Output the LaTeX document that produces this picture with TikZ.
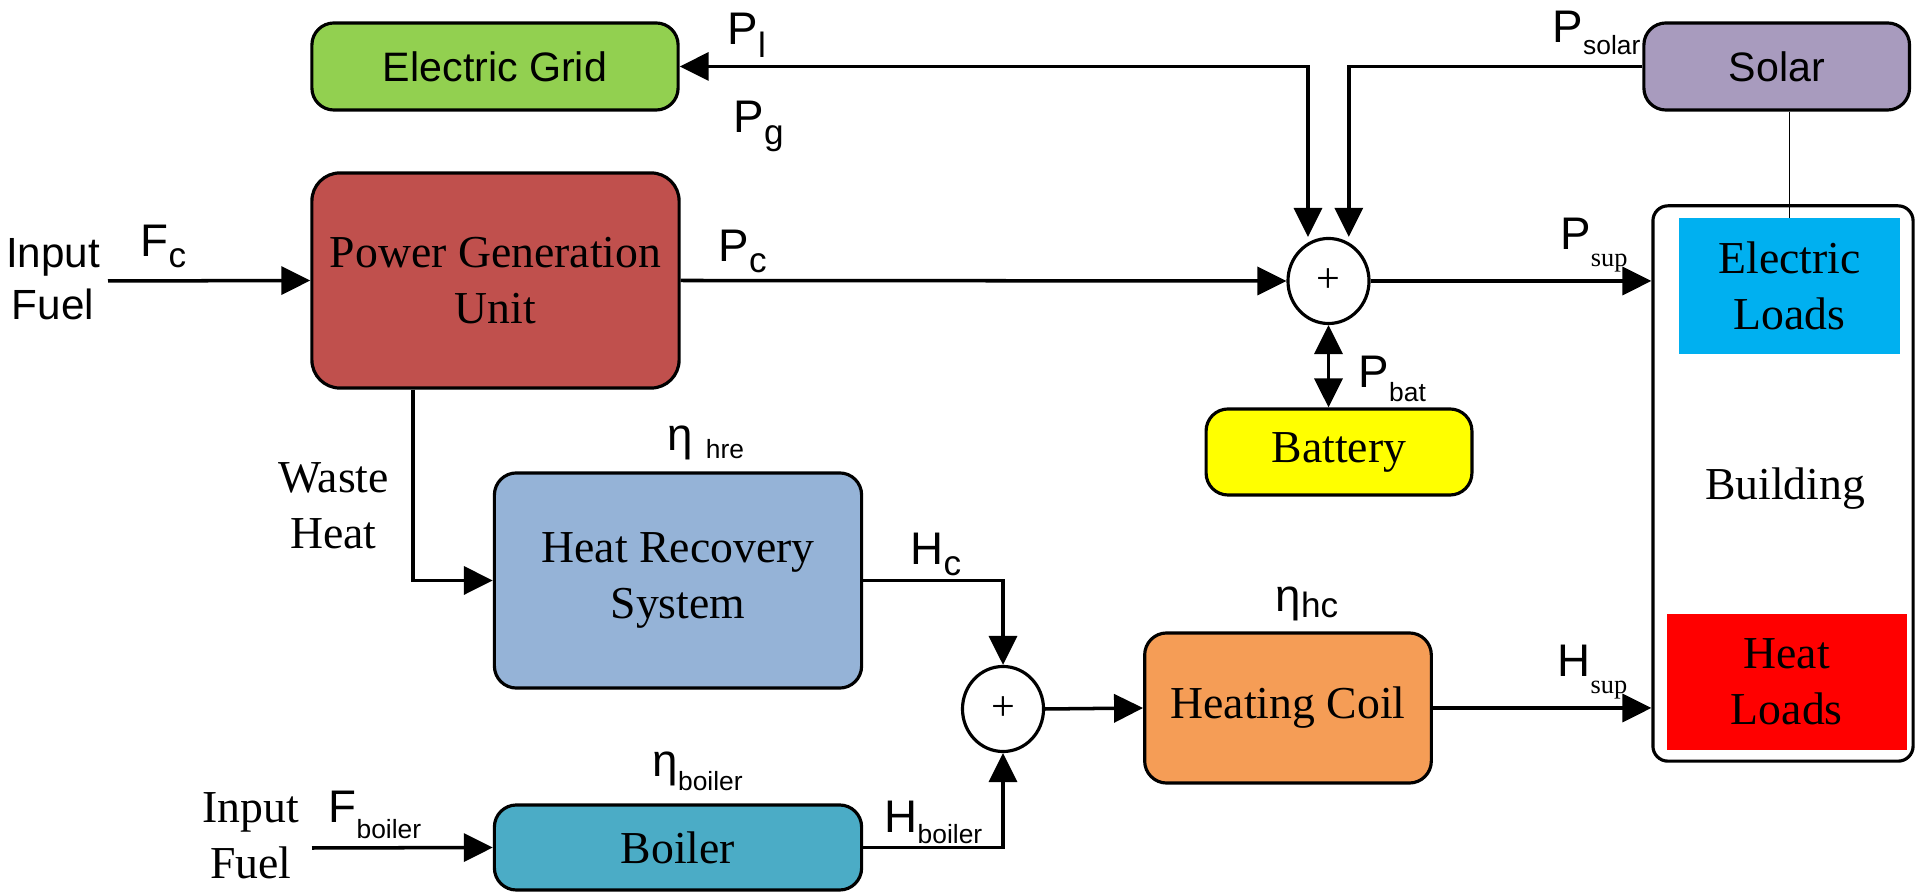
\documentclass[tikz,border=0pt]{standalone}
\usepackage{fontspec}
\setmainfont{Liberation Serif}
\setsansfont{Liberation Sans}
\usetikzlibrary{arrows.meta,shapes.geometric}
\definecolor{cgrid}{HTML}{92D050}
\definecolor{csolar}{HTML}{A89BBE}
\definecolor{cpgu}{HTML}{C0504D}
\definecolor{chrs}{HTML}{95B3D7}
\definecolor{cboiler}{HTML}{4BACC6}
\definecolor{chc}{HTML}{F59D56}
\definecolor{cbat}{HTML}{FFFF00}
\definecolor{celec}{HTML}{00B0F0}
\definecolor{cheat}{HTML}{FF0000}
\newcommand\sbx[3]{\raisebox{-#1pt}{\fontsize{#2}{#2}\selectfont #3}}
\tikzset{
  blk/.style={draw, line width=0.9pt, rounded corners=0.22cm, inner sep=0pt, align=center,
              font=\fontsize{13}{16}\selectfont\rmfamily},
  sblk/.style={blk, font=\fontsize{11.7}{14}\selectfont\sffamily},
  load/.style={inner sep=0pt, align=center, font=\fontsize{13}{16}\selectfont\rmfamily},
  tip/.tip={Triangle[length=0.29cm,width=0.28cm]},
  conn/.style={line width=1pt, -tip},
  biconn/.style={line width=1pt, tip-tip},
  thinline/.style={line width=0.35pt},
  sumnode/.style={draw, line width=0.9pt, ellipse, minimum width=0.81cm, minimum height=0.85cm,
                  inner sep=0pt, fill=white, font=\fontsize{12}{12}\selectfont\rmfamily},
  lab/.style={anchor=base west, inner sep=0pt, font=\fontsize{13}{13}\selectfont\sffamily},
  sertxt/.style={inner sep=0pt, align=center, font=\fontsize{13}{16}\selectfont\rmfamily},
  santxt/.style={inner sep=0pt, align=center, font=\fontsize{12}{14.8}\selectfont\sffamily}
}
\begin{document}
\begin{tikzpicture}[x=0.01cm,y=-0.01cm]
\useasboundingbox (0,0) rectangle (1915,892);
% blocks
\node[sblk, fill=cgrid, minimum width=3.66cm, minimum height=0.87cm] (grid) at (495,66.5) {Electric Grid};
\node[sblk, fill=csolar, minimum width=2.655cm, minimum height=0.87cm] (solar) at (1776.7,66.5) {Solar};
\node[blk, fill=cpgu, rounded corners=0.28cm, minimum width=3.67cm, minimum height=2.15cm] (pgu) at (495.5,280.5) {Power Generation\\Unit};
\node[blk, fill=chrs, minimum width=3.67cm, minimum height=2.15cm] (hrs) at (678,580.5) {Heat Recovery\\System};
\node[blk, fill=cboiler, minimum width=3.67cm, minimum height=0.85cm] (boiler) at (678,847.5) {Boiler};
\node[blk, fill=chc, minimum width=2.865cm, minimum height=1.5cm] (hc) at (1288,708) {Heating Coil};
\node[blk, fill=cbat, minimum width=2.657cm, minimum height=0.86cm] (bat) at (1339,452) {Battery};
\node[blk, fill=white, rounded corners=0.15cm, minimum width=2.6cm, minimum height=5.55cm] (bldg) at (1783,483.5) {};
\node[sertxt, anchor=base] (bldgtxt) at (1785,500) {Building};
\node[load, fill=celec, minimum width=2.207cm, minimum height=1.35cm] (eload) at (1789.4,286) {Electric\\Loads};
\node[load, fill=cheat, minimum width=2.396cm, minimum height=1.355cm] (hload) at (1786.8,682) {Heat\\Loads};
\node[sumnode] (s1) at (1328.5,281) {+};
\node[sumnode] (s2) at (1003,709) {+};
% free ends
\coordinate (fin1) at (108,281);
\coordinate (fin2) at (312,848);
% connectors
\draw[conn] (fin1) -- (pgu.west);
\draw[conn] (pgu.east) -- (s1.west);
\draw[conn] (s1.east) -- (s1.east -| bldg.west);
\draw[biconn] (grid.east) -| ([xshift=-0.205cm]s1.north);
\draw[conn] (solar.west) -| ([xshift=0.203cm]s1.north);
\draw[biconn] (s1.south) -- (s1.south |- bat.north);
\draw[thinline] (solar.south -| eload.north) -- (eload.north);
\draw[conn] ([xshift=-0.825cm]pgu.south) |- (hrs.west);
\draw[conn] (hrs.east) -| (s2.north);
\draw[conn] (boiler.east) -| (s2.south);
\draw[conn] (s2.east) -- (hc.west);
\draw[conn] (hc.east) -- (hc.east -| bldg.west);
\draw[conn] (fin2) -- (boiler.west);
% text labels
\node[santxt] (in1) at (53,279) {Input\\Fuel};
\node[sertxt] (in2) at (251,836) {Input\\Fuel};
\node[sertxt] (waste) at (333.5,506) {Waste\\Heat};
\node[lab] (lfc) at (140,257) {F\sbx{3.1}{10}{c}};
\node[lab] (lpc) at (718,262) {P\sbx{3.1}{10}{c}};
\node[lab] (lpl) at (727,45) {P\sbx{3.7}{10}{l}};
\node[lab] (lpg) at (733,133) {P\sbx{3.2}{10}{g}};
\node[lab] (lpsolar) at (1552,43) {P\sbx{3.4}{7.5}{solar}};
\node[lab] (lpsup) at (1559.6,250) {P\sbx{4.8}{7.5}{\rmfamily sup}};
\node[lab] (lpbat) at (1358,388) {P\sbx{3.9}{7.5}{bat}};
\node[lab] (lhre) at (667,451) {η \sbx{2.2}{7.5}{hre}};
\node[lab] (lhc) at (910,565) {H\sbx{3.1}{10}{c}};
\node[lab] (lehc) at (1275,612) {η\sbx{1.7}{10}{hc}};
\node[lab] (lhsup) at (1557,677) {H\sbx{4.8}{7.5}{\rmfamily sup}};
\node[lab] (leboil) at (652,777) {η\sbx{3.7}{7.5}{boiler}};
\node[lab] (lfboil) at (328,823) {F\sbx{4.3}{7.5}{boiler}};
\node[lab] (lhboil) at (884,833) {H\sbx{3}{7.5}{boiler}};
\end{tikzpicture}
\end{document}
